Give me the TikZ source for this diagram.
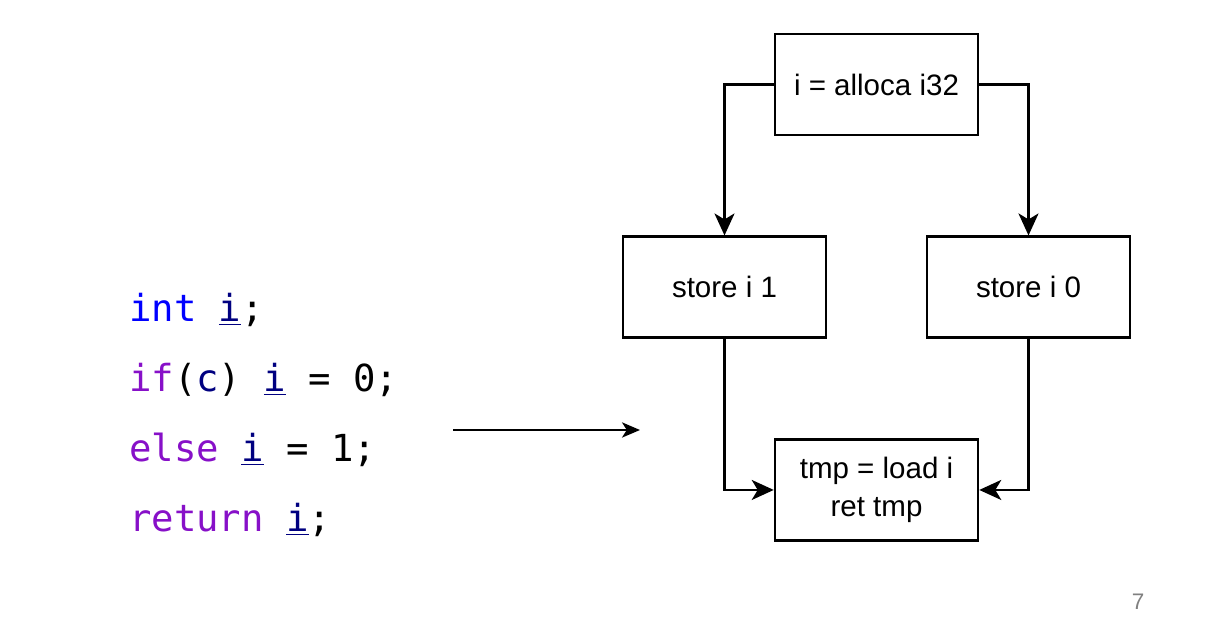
\documentclass[tikz,border=0pt]{standalone}
\usepackage{fontspec}
\setmainfont{Liberation Sans}
\setmonofont{DejaVu Sans Mono}
\usepackage{xcolor}
\usetikzlibrary{arrows.meta, positioning}

\definecolor{kwblue}{RGB}{0,0,255}
\definecolor{kwpurple}{RGB}{135,16,200}
\definecolor{varnavy}{RGB}{0,0,128}
\newcommand{\kw}[1]{\textcolor{kwpurple}{#1}}
\newcommand{\var}[1]{\textcolor{varnavy}{\underline{#1}}}

\begin{document}
\begin{tikzpicture}[node distance=2.48cm, >={Stealth[length=0.55cm, width=0.5cm, inset=0.15cm]}, line width=1.8pt]
    % Styles
    \tikzstyle{block} = [rectangle, draw, minimum width=5.075cm, minimum height=2.525cm, align=center, font=\fontsize{21}{27.5}\selectfont]
    \tikzstyle{code} = [anchor=base west, inner sep=0pt, font=\ttfamily\fontsize{26.5}{30}\selectfont]

    \useasboundingbox (0,0) rectangle (30.575,15.975);

    % Source code
    \node [code] (line1) at (3.2,7.925) {\textcolor{kwblue}{int} \var{i};};
    \node [code] (line2) at (3.2,6.175) {\kw{if}(\textcolor{varnavy}{c}) \var{i} = 0;};
    \node [code] (line3) at (3.2,4.425) {\kw{else} \var{i} = 1;};
    \node [code] (line4) at (3.2,2.675) {\kw{return} \var{i};};

    % Nodes
    \node [block] (alloca) at (21.9125,13.8625) {i = alloca i32};
    \node [block, below=of alloca, xshift=-3.8cm] (store1) {store i 1};
    \node [block, below=of alloca, xshift=3.8cm] (store0) {store i 0};
    \node [block, below=of store1, xshift=3.8cm] (load) {tmp = load i\\ret tmp};

    % Connections
    \draw[->] (alloca.west) -| (store1.north);
    \draw[->] (alloca.east) -| (store0.north);
    \draw[->] (store1.south) |- (load.west);
    \draw[->] (store0.south) |- (load.east);

    % Code to IR
    \coordinate (from) at (11.325,5.225);
    \coordinate (to) at (16.0,5.225);
    \draw[line width=1.5pt, -{Stealth[length=0.45cm, width=0.38cm, inset=0.12cm]}] (from) -- (to);

    % Page number
    \node [text=gray, font=\fontsize{16}{19}\selectfont] (page) at (28.45,0.925) {7};
\end{tikzpicture}
\end{document}
